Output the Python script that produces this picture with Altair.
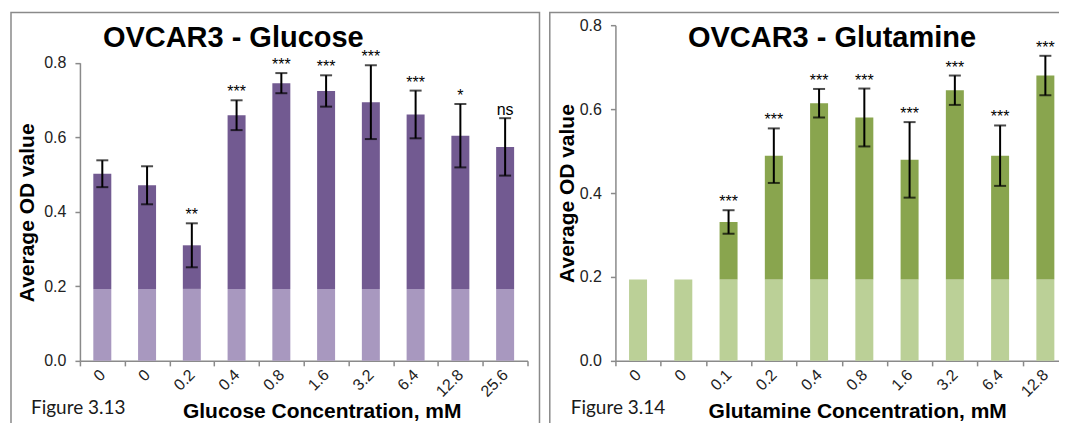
import altair as alt
import pandas as pd

# ---------------- data ----------------
glc_labels = ["0", "0", "0.2", "0.4", "0.8", "1.6", "3.2", "6.4", "12.8", "25.6"]
glc_mean = [0.502, 0.471, 0.310, 0.659, 0.745, 0.724, 0.694, 0.661, 0.604, 0.574]
glc_err = [0.036, 0.051, 0.059, 0.040, 0.027, 0.042, 0.099, 0.064, 0.085, 0.077]
glc_sig = ["", "", "**", "***", "***", "***", "***", "***", "*", "ns"]
glc_base = 0.193

gln_labels = ["0", "0", "0.1", "0.2", "0.4", "0.8", "1.6", "3.2", "6.4", "12.8"]
gln_mean = [0.194, 0.194, 0.331, 0.489, 0.614, 0.580, 0.479, 0.645, 0.489, 0.680]
gln_err = [0.0, 0.0, 0.028, 0.065, 0.034, 0.069, 0.090, 0.035, 0.072, 0.047]
gln_sig = ["", "", "***", "***", "***", "***", "***", "***", "***", "***"]
gln_base = 0.194

y_ticks = [0.0, 0.2, 0.4, 0.6, 0.8]

AXIS_GRAY = "#8a8a8a"
FONT = "Liberation Sans"


def panel(labels, mean, err, sig, base, dark, light, title, xtitle, fig,
          width, height, yrange, frame, title_pos, ytitle_pos, fig_x):
    df = pd.DataFrame({
        "idx": list(range(len(labels))),
        "mean": mean,
        "err": err,
        "sig": sig,
    })
    df["base"] = base
    df["lo"] = df["mean"] - df["err"]
    df["hi"] = df["mean"] + df["err"]

    label_expr = "[" + ",".join("'%s'" % l for l in labels) + "][datum.value]"

    x_enc = alt.X(
        "idx:O",
        scale=alt.Scale(paddingInner=0, paddingOuter=0),
        axis=alt.Axis(
            title=xtitle, labelExpr=label_expr, labelAngle=-45,
            labelAlign="right", labelBaseline="middle",
            tickBand="extent", labelPadding=6,
            titleX=242, titleY=57, titleBaseline="alphabetic",
            titleAlign="center",
        ),
    )
    if yrange is not None:
        yscale = alt.Scale(domain=[0, 0.8], range=yrange, nice=False)
    else:
        yscale = alt.Scale(domain=[0, 0.8], nice=False)
    yaxis = alt.Axis(
        title="Average OD value", values=y_ticks, format=".1f",
        labelPadding=9, titleX=ytitle_pos[0], titleY=ytitle_pos[1],
        titleBaseline="middle", titleAlign="center", titleAngle=270,
    )

    def Y(field):
        return alt.Y(field, scale=yscale, axis=yaxis)

    base_chart = alt.Chart(df)

    light_bars = base_chart.transform_calculate(
        lt="min(datum.mean, datum.base)"
    ).mark_bar(size=18, color=light).encode(x=x_enc, y=Y("lt:Q"))

    dark_bars = base_chart.transform_filter(
        "datum.mean > datum.base"
    ).mark_bar(size=18, color=dark).encode(
        x=x_enc, y=Y("base:Q"), y2="mean:Q"
    )

    err_src = base_chart.transform_filter("datum.err > 0")
    err_rule = err_src.mark_rule(color="black", strokeWidth=2).encode(
        x=x_enc, y=Y("lo:Q"), y2="hi:Q"
    )
    cap_hi = err_src.mark_tick(color="black", size=12, thickness=2).encode(
        x=x_enc, y=Y("hi:Q")
    )
    cap_lo = err_src.mark_tick(color="black", size=12, thickness=2).encode(
        x=x_enc, y=Y("lo:Q")
    )
    sig_text = err_src.mark_text(
        baseline="alphabetic", dy=-3, fontSize=16, font=FONT, color="black"
    ).encode(x=x_enc, y=Y("hi:Q"), text="sig:N")

    one = pd.DataFrame({"t": [title], "f": [fig]})
    frame_rect = alt.Chart(one).mark_rect(
        fillOpacity=0, stroke=AXIS_GRAY, strokeWidth=1.5
    ).encode(
        x=alt.value(frame[0]), x2=alt.value(frame[1]),
        y=alt.value(frame[2]), y2=alt.value(frame[3]),
    )
    title_text = alt.Chart(one).mark_text(
        font=FONT, fontSize=29, fontWeight="bold", color="black",
        align="center", baseline="alphabetic",
    ).encode(text="t:N", x=alt.value(title_pos[0]), y=alt.value(title_pos[1]))
    fig_text = alt.Chart(one).mark_text(
        font="Lato", fontSize=19, color="#1a1a1a",
        align="left", baseline="alphabetic",
    ).encode(text="f:N", x=alt.value(fig_x), y=alt.value(389))

    return alt.layer(
        frame_rect, light_bars, dark_bars, err_rule, cap_hi, cap_lo,
        sig_text, title_text, fig_text,
    ).properties(width=width, height=height)


left = panel(
    glc_labels, glc_mean, glc_err, glc_sig, glc_base,
    "#725A91", "#A898BF", "OVCAR3 - Glucose", "Glucose Concentration, mM",
    "Figure 3.13", 448, 336, [336, 37.5],
    (-69, 460, -12.7, 450), (153.5, 22.3), (-52, 187.3), -49,
)
right = panel(
    gln_labels, gln_mean, gln_err, gln_sig, gln_base,
    "#89A54E", "#BBD097", "OVCAR3 - Glutamine", "Glutamine Concentration, mM",
    "Figure 3.14", 453, 336, None,
    (-65.7, 464.3, -12.7, 450), (216.8, 21.5), (-48, 168), -44.7,
)

chart = alt.hconcat(left, right, spacing=8).properties(
    padding={"left": 2, "top": 3, "right": -22, "bottom": -52}
).configure_view(stroke=None).configure_axis(
    domainColor=AXIS_GRAY, tickColor=AXIS_GRAY, domainWidth=1.5,
    tickWidth=1.5, tickSize=5, grid=False,
    labelFont=FONT, labelFontSize=16, labelColor="#222222",
    titleFont=FONT, titleFontSize=21, titleFontWeight="bold",
    titleColor="black",
)

chart.save("out.html", embed_options={"renderer": "svg", "actions": False})
